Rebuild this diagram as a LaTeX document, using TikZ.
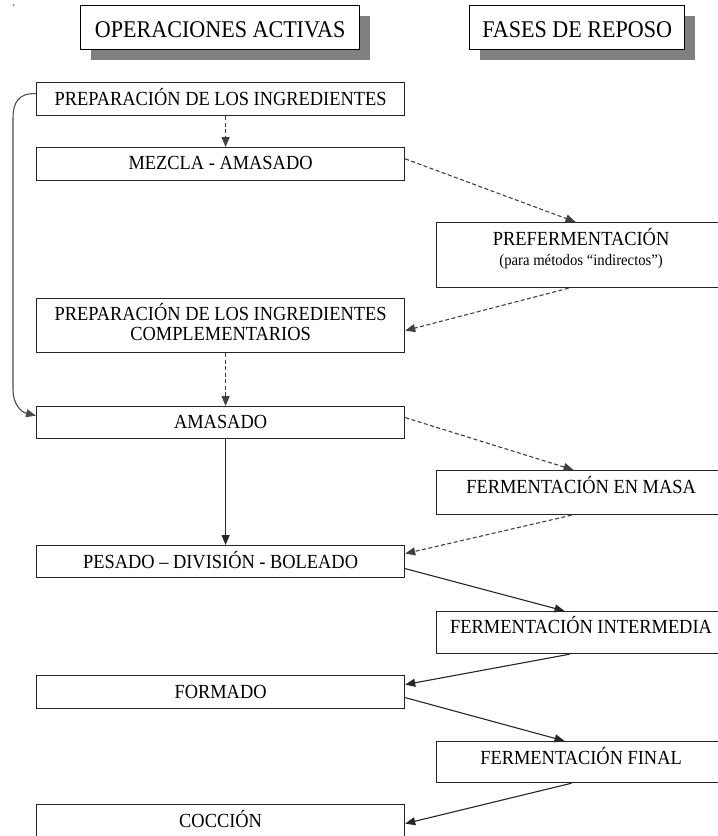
\documentclass[tikz,border=0pt]{standalone}
\usepackage{fontspec}
\setmainfont[FakeStretch=0.92]{Liberation Serif}
\usetikzlibrary{arrows.meta,calc}
\tikzset{
  boxst/.style={draw=black!85, line width=1.2pt, fill=white, inner sep=0pt, anchor=north west},
  hdrbox/.style={draw=black, line width=1.4pt, fill=white, inner sep=0pt, anchor=north west},
  shadowst/.style={fill=black!50, draw=none, inner sep=0pt, anchor=north west},
  lbl/.style={anchor=base, inner sep=0pt, font=\fontsize{20}{22}\selectfont},
  small/.style={anchor=base, inner sep=0pt, font=\fontsize{16}{18}\selectfont},
  hdrlbl/.style={anchor=base, inner sep=0pt, font=\fontsize{24}{26}\selectfont},
  tip/.style={-{Triangle[length=10pt,width=8pt]}},
  dasharrow/.style={tip, draw=black!75, line width=1.1pt, dash pattern=on 4pt off 2.5pt},
  solidarrow/.style={tip, draw=black!85, line width=1.1pt},
}
\begin{document}
\begin{tikzpicture}[x=1pt,y=-1pt]
\useasboundingbox (0,0) rectangle (718,836);
\clip (0,0) rectangle (718,836);
% tiny mark
\fill[black!70] (13.8,5) circle (0.8);
% headers with shadows
\node[shadowst, minimum width=279pt, minimum height=44pt] (h1s) at (91,16) {};
\node[hdrbox, minimum width=279pt, minimum height=44pt] (h1) at (80,5) {};
\node[hdrlbl] (h1t) at ($(h1.north)+(0,32)$) {OPERACIONES ACTIVAS};
\node[shadowst, minimum width=215pt, minimum height=44pt] (h2s) at (480,16) {};
\node[hdrbox, minimum width=215pt, minimum height=44pt] (h2) at (469,5) {};
\node[hdrlbl] (h2t) at ($(h2.north)+(0,32)$) {FASES DE REPOSO};
% boxes
\node[boxst, minimum width=368pt, minimum height=33pt] (prep) at (36,82) {};
\node[lbl] (prept) at ($(prep.north)+(0,23)$) {PREPARACIÓN DE LOS INGREDIENTES};
\node[boxst, minimum width=368pt, minimum height=32.5pt] (mezcla) at (36,147) {};
\node[lbl] (mezclat) at ($(mezcla.north)+(0,22)$) {MEZCLA - AMASADO};
\node[boxst, minimum width=289pt, minimum height=65pt] (preferm) at (436,222) {};
\node[lbl] (prefermt) at ($(preferm.north)+(0,23)$) {PREFERMENTACIÓN};
\node[small] (prefermt2) at ($(preferm.north)+(0,43)$) {(para métodos “indirectos”)};
\node[boxst, minimum width=368pt, minimum height=54pt] (comp) at (36,298) {};
\node[lbl] (compt) at ($(comp.north)+(0,22)$) {PREPARACIÓN DE LOS INGREDIENTES};
\node[lbl] (compt2) at ($(comp.north)+(0,42.5)$) {COMPLEMENTARIOS};
\node[boxst, minimum width=368pt, minimum height=32pt] (amasado) at (36,406) {};
\node[lbl] (amasadot) at ($(amasado.north)+(0,22)$) {AMASADO};
\node[boxst, minimum width=289pt, minimum height=44pt] (fmasa) at (436,470) {};
\node[lbl] (fmasat) at ($(fmasa.north)+(0,23)$) {FERMENTACIÓN EN MASA};
\node[boxst, minimum width=368pt, minimum height=32pt] (pesado) at (36,545) {};
\node[lbl] (pesadot) at ($(pesado.north)+(0,23)$) {PESADO – DIVISIÓN - BOLEADO};
\node[boxst, minimum width=289pt, minimum height=42pt] (finter) at (436,611) {};
\node[lbl] (fintert) at ($(finter.north)+(0,22)$) {FERMENTACIÓN INTERMEDIA};
\node[boxst, minimum width=368pt, minimum height=33pt] (formado) at (36,675) {};
\node[lbl] (formadot) at ($(formado.north)+(0,23)$) {FORMADO};
\node[boxst, minimum width=289pt, minimum height=41pt] (ffinal) at (436,741) {};
\node[lbl] (ffinalt) at ($(ffinal.north)+(0,23)$) {FERMENTACIÓN FINAL};
\node[boxst, minimum width=368pt, minimum height=46pt] (coccion) at (36,804) {};
\node[lbl] (cocciont) at ($(coccion.north)+(0,23)$) {COCCIÓN};
% connectors
\draw[dasharrow] ([xshift=5pt]prep.south) -- ([xshift=5pt]mezcla.north);
\draw[dasharrow] ([yshift=5pt]mezcla.east) -- ([xshift=-5.5pt]preferm.north);
\draw[dasharrow] ([xshift=-12.5pt]preferm.south) -- ([yshift=-5pt]comp.east);
\draw[dasharrow] ([xshift=5pt]comp.south) -- ([xshift=5pt]amasado.north);
\draw[solidarrow, draw=black!70] ([yshift=5.5pt]prep.west) .. controls (18,93) and (13,103) .. (13,118)
   -- (13,390) .. controls (13,404) and (21,412) .. ([yshift=7pt]amasado.west);
\draw[dasharrow] ([yshift=5pt]amasado.east) -- ([xshift=-7.5pt]fmasa.north);
\draw[solidarrow] ([xshift=5pt]amasado.south) -- ([xshift=5pt]pesado.north);
\draw[dasharrow] ([xshift=-9.5pt]fmasa.south) -- ([yshift=8pt]pesado.east);
\draw[solidarrow] ([yshift=-7pt]pesado.east) -- ([xshift=-16.5pt]finter.north);
\draw[solidarrow] ([xshift=-11.5pt]finter.south) -- ([yshift=7.5pt]formado.east);
\draw[solidarrow] ([yshift=-5.5pt]formado.east) -- ([xshift=-16.5pt]ffinal.north);
\draw[solidarrow] ([xshift=-9.5pt]ffinal.south) -- ([yshift=4pt]coccion.east);
\end{tikzpicture}
\end{document}
